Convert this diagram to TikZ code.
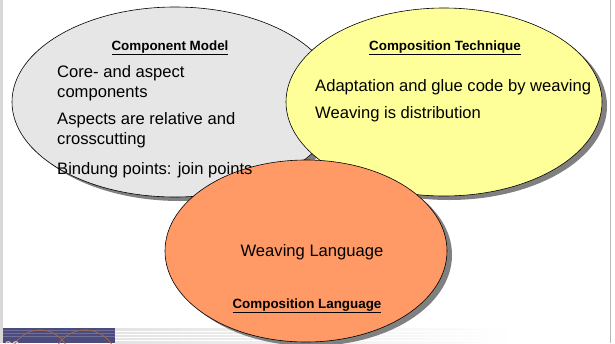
\documentclass[tikz,border=0pt]{standalone}
\usepackage{fontspec}
\setmainfont{Liberation Sans}
\begin{document}
\begin{tikzpicture}[x=1pt,y=-1pt,
  blob/.style={draw=black, line width=0.6pt},
  dropshadow/.style={fill=shadowgray, draw=none},
  body/.style={anchor=base west, inner sep=0pt, font=\fontsize{16.6}{20}\selectfont, text=black},
  heading/.style={anchor=base, inner sep=0pt, font=\fontsize{13.4}{15}\selectfont\bfseries, text=black}]
\definecolor{shadowgray}{HTML}{808080}
\definecolor{modelgray}{HTML}{E6E6E6}
\definecolor{techyellow}{HTML}{FFFF99}
\definecolor{langorange}{HTML}{FF9966}
\definecolor{barblue}{HTML}{4B4B7E}
\definecolor{framegray}{HTML}{D8D8D8}

\useasboundingbox (0,0) rectangle (615,343);
\fill[white] (0,0) rectangle (615,343);

% page frame
\fill[framegray] (0,0) rectangle (3,343);
\draw[framegray!85!black, line width=1pt] (610,0) -- (610,343);

% footer bar
\shade[left color=gray!22, right color=white] (115,328) rectangle (515,343);
\foreach \yy in {331,334,337,340} \draw[white, line width=0.7pt] (115,\yy) -- (515,\yy);
\begin{scope}
  \clip (3,328) rectangle (115,343);
  \fill[barblue] (3,328) rectangle (115,343);
  \foreach \yy in {330,333,336} \draw[barblue!80!white, line width=0.5pt] (3,\yy) -- (115,\yy);
  \draw[orange!50!barblue, line width=0.8pt] (40,360) circle (30);
  \draw[orange!50!barblue, line width=0.8pt] (85,362) circle (32);
  \node[anchor=base west, inner sep=0pt, text=orange!30!white, font=\fontsize{14}{14}\selectfont] (pagenum) at (4,351) {60};
\end{scope}

% ellipses with drop shadows
\fill[dropshadow] (180,106) ellipse [x radius=163, y radius=95];
\filldraw[blob, fill=modelgray] (175,102) ellipse [x radius=163, y radius=95];
\fill[dropshadow] (449,106) ellipse [x radius=158, y radius=94];
\filldraw[blob, fill=techyellow] (444,102) ellipse [x radius=158, y radius=94];
\fill[dropshadow] (311,255) ellipse [x radius=141, y radius=91];
\filldraw[blob, fill=langorange] (306,251) ellipse [x radius=141, y radius=91];

% component model
\node[heading] (cmtitle) at (170,50) {\underline{Component Model}};
\node[body] (cm1) at (57,77) {Core- and aspect};
\node[body] (cm2) at (57,97) {components};
\node[body] (cm3) at (57,124) {Aspects are relative and};
\node[body] (cm4) at (57,144) {crosscutting};
\node[body] (cm5) at (57,174) {Bindung points: join points};

% composition technique
\node[heading] (cttitle) at (445,50) {\underline{Composition Technique}};
\node[body] (ct1) at (315,91) {Adaptation and glue code by weaving};
\node[body] (ct2) at (315,118) {Weaving is distribution};

% composition language
\node[body, anchor=base] (cl1) at (312,256) {Weaving Language};
\node[heading] (cltitle) at (307,308) {\underline{Composition Language}};
\end{tikzpicture}
\end{document}
